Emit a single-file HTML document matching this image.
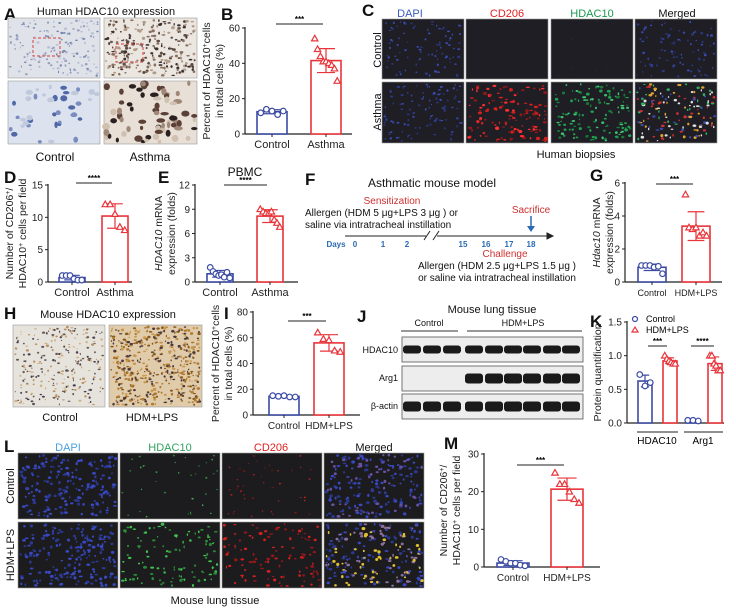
<!DOCTYPE html>
<html><head><meta charset="utf-8"><style>
html,body{margin:0;padding:0;background:#fff;}
svg{display:block;font-family:"Liberation Sans",Arial,sans-serif;}
</style></head><body>
<svg id="fig" width="736" height="610" viewBox="0 0 736 610" xmlns="http://www.w3.org/2000/svg">
<g id="static" font-size="11" fill="#111">
  <text x="4" y="20" font-size="17" font-weight="bold">A</text>
  <text x="106" y="15" font-size="11" text-anchor="middle">Human HDAC10 expression</text>
  <text x="55" y="161" font-size="12" text-anchor="middle">Control</text>
  <text x="150" y="161" font-size="12" text-anchor="middle">Asthma</text>
  <text x="221" y="20" font-size="17" font-weight="bold">B</text>
  <text x="362" y="16" font-size="17" font-weight="bold">C</text>
  <text x="410" y="17" text-anchor="middle" fill="#3a5bc0">DAPI</text>
  <text x="507" y="17" text-anchor="middle" fill="#e02020">CD206</text>
  <text x="592" y="17" text-anchor="middle" fill="#1a9a50">HDAC10</text>
  <text x="677" y="17" text-anchor="middle">Merged</text>
  <text transform="translate(381,50) rotate(-90)" text-anchor="middle">Control</text>
  <text transform="translate(381,112) rotate(-90)" text-anchor="middle">Asthma</text>
  <text x="576" y="158" text-anchor="middle">Human biopsies</text>
  <text x="4" y="183" font-size="17" font-weight="bold">D</text>
  <text x="158" y="183" font-size="17" font-weight="bold">E</text>
  <text x="245" y="176" text-anchor="middle" font-size="12">PBMC</text>
  <text x="305" y="185" font-size="17" font-weight="bold">F</text>
  <text x="432" y="187" text-anchor="middle" font-size="12">Asthmatic mouse model</text>
  <text x="392" y="204" text-anchor="middle" font-size="10" fill="#d03030">Sensitization</text>
  <text x="305" y="216" font-size="10">Allergen (HDM 5 μg+LPS 3 μg ) or</text>
  <text x="305" y="228" font-size="10">saline via intratracheal instillation</text>
  <g id="timeline" stroke="#222" stroke-width="1">
    <line x1="345" y1="236" x2="426" y2="236"/>
    <line x1="437" y1="236" x2="547" y2="236"/>
    <line x1="424" y1="240" x2="430" y2="231"/>
    <line x1="433" y1="240" x2="439" y2="231"/>
    <polygon points="547,233 553,236 547,239" fill="#222"/>
  </g>
  <g font-size="8" font-weight="bold" fill="#2a6ab0" text-anchor="middle">
    <text x="336" y="247">Days</text><text x="355" y="247">0</text><text x="383" y="247">1</text><text x="407" y="247">2</text>
    <text x="463" y="247">15</text><text x="486" y="247">16</text><text x="509" y="247">17</text><text x="531" y="247">18</text>
  </g>
  <text x="531" y="213" text-anchor="middle" font-size="10" fill="#d03030">Sacrifice</text>
  <line x1="531" y1="216" x2="531" y2="227" stroke="#2a6ab0" stroke-width="1.5"/>
  <polygon points="527,226 535,226 531,232" fill="#2a6ab0"/>
  <text x="505" y="257" text-anchor="middle" font-size="10" fill="#d03030">Challenge</text>
  <text x="497" y="269" text-anchor="middle" font-size="10">Allergen (HDM 2.5 μg+LPS 1.5 μg )</text>
  <text x="497" y="281" text-anchor="middle" font-size="10">or saline via intratracheal instillation</text>
  <text x="590" y="181" font-size="17" font-weight="bold">G</text>
  <text x="4" y="319" font-size="17" font-weight="bold">H</text>
  <text x="108" y="318" text-anchor="middle" font-size="11">Mouse HDAC10 expression</text>
  <text x="60" y="421" text-anchor="middle" font-size="11">Control</text>
  <text x="152" y="421" text-anchor="middle" font-size="11">HDM+LPS</text>
  <text x="224" y="319" font-size="17" font-weight="bold">I</text>
  <text x="357" y="322" font-size="17" font-weight="bold">J</text>
  <text x="492" y="313" text-anchor="middle" font-size="11">Mouse lung tissue</text>
  <text x="429" y="326" text-anchor="middle" font-size="9">Control</text>
  <line x1="401" y1="331" x2="458" y2="331" stroke="#333"/>
  <text x="523" y="326" text-anchor="middle" font-size="9">HDM+LPS</text>
  <line x1="467" y1="331" x2="582" y2="331" stroke="#333"/>
  <text x="398" y="353" text-anchor="end" font-size="9">HDAC10</text>
  <text x="398" y="381" text-anchor="end" font-size="9">Arg1</text>
  <text x="398" y="409" text-anchor="end" font-size="9">β-actin</text>
  <text x="590" y="327" font-size="17" font-weight="bold">K</text>
  <text x="4" y="452" font-size="17" font-weight="bold">L</text>
  <text x="68" y="451" text-anchor="middle" fill="#4aa0e0">DAPI</text>
  <text x="170" y="451" text-anchor="middle" fill="#30a060">HDAC10</text>
  <text x="271" y="451" text-anchor="middle" fill="#e02020">CD206</text>
  <text x="374" y="451" text-anchor="middle">Merged</text>
  <text transform="translate(14,486) rotate(-90)" text-anchor="middle">Control</text>
  <text transform="translate(14,555) rotate(-90)" text-anchor="middle">HDM+LPS</text>
  <text x="215" y="604" text-anchor="middle" font-size="11">Mouse lung tissue</text>
  <text x="444" y="449" font-size="17" font-weight="bold">M</text>
</g>
<g id="images"></g>
<g id="charts"></g>
</svg>
<script>
// ---------- chart data ----------
const groupsTwo = ["Control", "Asthma"];
const groupsMouse = ["Control", "HDM+LPS"];
const bControl = [12, 14, 13, 11, 13];
const bAsthma = [54, 48, 44, 41, 41, 40, 39, 37, 30];
const bTicks = [0, 20, 40, 60];
const dControl = [1, 1, 1, 0.5, 0.3, 0.3];
const dAsthma = [12, 12, 10.5, 8.5, 8];
const dTicks = [0, 5, 10, 15];
const eControl = [1.8, 1.3, 1.0, 0.8, 0.9, 0.6, 1.2, 0.5];
const eAsthma = [9.0, 8.7, 8.5, 8.5, 8.7, 7.7, 7.3, 6.8];
const eTicks = [0, 3, 6, 9, 12];
const gControl = [1.0, 1.0, 1.0, 0.9, 0.95, 0.5];
const gHdm = [5.3, 3.3, 3.2, 3.3, 2.8, 3.0, 2.8];
const gTicks = [0, 2, 4, 6];
const iControl = [15, 14.5, 15, 14, 14];
const iHdm = [64, 59, 58, 50, 49];
const iTicks = [0, 20, 40, 60, 80];
const kHdac10Control = [0.72, 0.55, 0.6];
const kHdac10Hdm = [1.0, 0.95, 0.92, 0.9, 0.88, 0.88];
const kArg1Control = [0.04, 0.04, 0.03];
const kArg1Hdm = [1.0, 1.0, 0.88, 0.85, 0.78, 0.78];
const kTicks = [0, 0.5, 1.0, 1.5];
const kTickLabels = ["0.0", "0.5", "1.0", "1.5"];
const mControl = [2, 1.5, 1, 1, 0.5, 0.3];
const mHdm = [25, 22, 22, 20, 18, 17];
const mTicks = [0, 10, 20, 30];

const NS = "http://www.w3.org/2000/svg";
const BLUE = "#3b4ba3", RED = "#e8343a";
const charts = document.getElementById("charts");
function el(tag, attrs, parent) {
  const e = document.createElementNS(NS, tag);
  for (const k in attrs) e.setAttribute(k, attrs[k]);
  (parent || charts).appendChild(e);
  return e;
}
function mean(a) { return a.reduce((s, v) => s + v, 0) / a.length; }
function sd(a) { const m = mean(a); return Math.sqrt(a.reduce((s, v) => s + (v - m) * (v - m), 0) / (a.length - 1)); }

function yScale(v, max, y0, y1) { return y0 - (v / max) * (y0 - y1); }

function axes(g, ax) {
  const l = el("line", {x1: ax.x0, y1: ax.y1 - 1, x2: ax.x0, y2: ax.y0, stroke: "#222", "stroke-width": 1.2}, g);
  
  
  const xl = el("line", {x1: ax.x0, y1: ax.y0, x2: ax.x1, y2: ax.y0, stroke: "#222", "stroke-width": 1.2}, g);
  
  
  ax.ticks.forEach((t, i) => {
    const y = yScale(t, ax.max, ax.y0, ax.y1);
    el("line", {x1: ax.x0 - 3, y1: y, x2: ax.x0, y2: y, stroke: "#222"}, g);
    const tx = el("text", {x: ax.x0 - 5, y: y + 3.5, "font-size": 10, "text-anchor": "end", fill: "#222"}, g);
    tx.textContent = ax.tickLabels ? ax.tickLabels[i] : t;
    
    
  });
  ax.titles.forEach((t, i) => {
    const tx = el("text", {transform: `translate(${ax.titleX + i * 13},${(ax.y0 + ax.y1) / 2}) rotate(-90)`, "font-size": 10.5, "text-anchor": "middle", fill: "#222"}, g);
    tx.innerHTML = t;
    
    
  });
}

function barGroup(g, ax, cx, w, vals, color, shape, name) {
  const m = mean(vals), s = sd(vals);
  const yt = yScale(m, ax.max, ax.y0, ax.y1);
  const r = el("rect", {x: cx - w / 2, y: yt, width: w, height: ax.y0 - yt, fill: "#fff", stroke: color, "stroke-width": 1.6}, g);
  
  
  const ye1 = yScale(m + s, ax.max, ax.y0, ax.y1), ye2 = yScale(Math.max(m - s, 0), ax.max, ax.y0, ax.y1);
  const eb = el("path", {d: `M${cx},${ye1}V${ye2}M${cx - w * 0.3},${ye1}H${cx + w * 0.3}M${cx - w * 0.3},${ye2}H${cx + w * 0.3}`, stroke: color, "stroke-width": 1.2, fill: "none"}, g);
  
  
  const n = vals.length;
  vals.forEach((v, i) => {
    const px = cx + (n > 1 ? (i / (n - 1) - 0.5) * w * 0.75 : 0);
    const py = yScale(v, ax.max, ax.y0, ax.y1);
    let p;
    if (shape === "c") p = el("circle", {cx: px, cy: py, r: 2.8, fill: "#fff", stroke: color, "stroke-width": 1.2}, g);
    else p = el("polygon", {points: `${px},${py - 3.3} ${px - 3.2},${py + 2.3} ${px + 3.2},${py + 2.3}`, fill: "#fff", stroke: color, "stroke-width": 1.2}, g);
    
    
  });
}

function sig(g, x1, x2, y, stars) {
  const l = el("line", {x1: x1, y1: y, x2: x2, y2: y, stroke: "#222", "stroke-width": 1}, g);
  
  
  const t = el("text", {x: (x1 + x2) / 2, y: y - 2, "font-size": 8, "text-anchor": "middle", "font-weight": "bold"}, g);
  t.textContent = stars;
  
  
}

function xLabels(g, ax, xs, labels) {
  labels.forEach((lab, i) => {
    el("line", {x1: xs[i], y1: ax.y0, x2: xs[i], y2: ax.y0 + 3, stroke: "#222"}, g);
    const t = el("text", {x: xs[i], y: ax.y0 + 14, "font-size": ax.xfs || 11, "text-anchor": "middle", fill: "#222"}, g);
    t.textContent = lab;
    
    
  });
}

function twoBar(name, ax, xs, w, a, b, labels, stars, sigY) {
  const g = el("g", {});
  
  
  axes(g, ax);
  barGroup(g, ax, xs[0], w, a, BLUE, "c", "control");
  barGroup(g, ax, xs[1], w, b, RED, "t", "treated");
  xLabels(g, ax, xs, labels);
  sig(g, xs[0] + 4, xs[1] - 3, sigY, stars);
}

twoBar("chart-b", {x0: 245, x1: 352, y0: 134, y1: 28, max: 60, ticks: bTicks, titles: ["Percent of HDAC10<tspan baseline-shift='super' font-size='7'>+</tspan>cells", "in total cells (%)"], titleX: 210},
  [272, 326], 30, bControl, bAsthma, groupsTwo, "***", 24);
twoBar("chart-d", {x0: 48, x1: 132, y0: 282, y1: 185, max: 15, ticks: dTicks, titles: ["Number of CD206<tspan baseline-shift='super' font-size='7'>+</tspan>/", "HDAC10<tspan baseline-shift='super' font-size='7'>+</tspan> cells per field"], titleX: 13},
  [72, 115], 26, dControl, dAsthma, groupsTwo, "****", 183);
twoBar("chart-e", {x0: 195, x1: 298, y0: 282, y1: 185, max: 12, ticks: eTicks, titles: ["<tspan font-style='italic'>HDAC10</tspan> mRNA", "expression (folds)"], titleX: 162},
  [220, 270], 26, eControl, eAsthma, groupsTwo, "****", 185);
twoBar("chart-g", {x0: 625, x1: 722, y0: 282, y1: 183, max: 6, ticks: gTicks, titles: ["<tspan font-style='italic'>Hdac10</tspan> mRNA", "expression (folds)"], titleX: 600, xfs: 9},
  [652, 696], 28, gControl, gHdm, groupsMouse, "***", 184);
twoBar("chart-i", {x0: 253, x1: 360, y0: 415, y1: 312, max: 80, ticks: iTicks, titles: ["Percent of HDAC10<tspan baseline-shift='super' font-size='7'>+</tspan>cells", "in total cells (%)"], titleX: 219, xfs: 10},
  [284, 329], 30, iControl, iHdm, groupsMouse, "***", 321);
twoBar("chart-m", {x0: 484, x1: 600, y0: 567, y1: 454, max: 30, ticks: mTicks, titles: ["Number of CD206<tspan baseline-shift='super' font-size='7'>+</tspan>/", "HDAC10<tspan baseline-shift='super' font-size='7'>+</tspan> cells per field"], titleX: 447, xfs: 10},
  [513, 567], 32, mControl, mHdm, groupsMouse, "***", 465);

// chart K
(function () {
  const g = el("g", {});
  
  
  const ax = {x0: 627, x1: 724, y0: 423, y1: 322, max: 1.5, ticks: kTicks, tickLabels: kTickLabels, titles: ["Protein quantification"], titleX: 601};
  axes(g, ax);
  barGroup(g, ax, 645, 14, kHdac10Control, BLUE, "c", "hdac10-control");
  barGroup(g, ax, 670, 14, kHdac10Hdm, RED, "t", "hdac10-hdm");
  barGroup(g, ax, 693, 14, kArg1Control, BLUE, "c", "arg1-control");
  barGroup(g, ax, 715, 14, kArg1Hdm, RED, "t", "arg1-hdm");
  sig(g, 648, 667, 346, "***");
  sig(g, 691, 714, 346, "****");
  [[637, 678, 657, "HDAC10"], [684, 723, 703, "Arg1"]].forEach(d => {
    el("line", {x1: d[0], y1: 432, x2: d[1], y2: 432, stroke: "#222"}, g);
    const t = el("text", {x: d[2], y: 444, "font-size": 10, "text-anchor": "middle"}, g);
    t.textContent = d[3];
    
    
  });
  const lc = el("circle", {cx: 635, cy: 319, r: 2.5, fill: "#fff", stroke: BLUE, "stroke-width": 1.2}, g);
  
  
  const t1 = el("text", {x: 646, y: 322, "font-size": 9}, g); t1.textContent = "Control";
  
  
  const lt = el("polygon", {points: "635,327 632,332 638,332", fill: "#fff", stroke: RED, "stroke-width": 1.2}, g);
  
  
  const t2 = el("text", {x: 646, y: 333, "font-size": 9}, g); t2.textContent = "HDM+LPS";
  
  
})();

// ---------- micrograph / blot textures (decorative) ----------
const imgs = document.getElementById("images");
let seed = 7;
function rnd() { seed = (seed * 16807) % 2147483647; return seed / 2147483647; }
function panel(name, x, y, w, h, bg, dots, n, rmin, rmax) {
  const g = el("g", {}, imgs);
  
  
  el("rect", {x: x, y: y, width: w, height: h, fill: bg, stroke: "#999", "stroke-width": 0.6}, g);
  for (let i = 0; i < n; i++) {
    const c = dots[Math.floor(rnd() * dots.length)];
    el("ellipse", {cx: x + 2 + rnd() * (w - 4), cy: y + 2 + rnd() * (h - 4), rx: rmin + rnd() * (rmax - rmin), ry: rmin + rnd() * (rmax - rmin) * 0.7, fill: c}, g);
  }
}
// A
panel("ihc-human-control-low", 8, 18, 92, 60, "#dfe2e8", ["#7a89b0", "#95a0c0", "#b8c0d5"], 160, 0.6, 1.6);
panel("ihc-human-asthma-low", 104, 18, 93, 60, "#ece6e0", ["#5a4a40", "#8a7060", "#3a3030", "#b09a88"], 260, 0.6, 2.0);
el("rect", {x: 33, y: 38, width: 27, height: 18, fill: "none", stroke: "#d04040", "stroke-dasharray": "3,2"}, imgs);
el("rect", {x: 116, y: 44, width: 27, height: 18, fill: "none", stroke: "#d04040", "stroke-dasharray": "3,2"}, imgs);
panel("ihc-human-control-high", 8, 81, 92, 63, "#dde3ee", ["#5068a8", "#7a8cc0", "#c0c8dc"], 40, 1.5, 4);
panel("ihc-human-asthma-high", 104, 81, 93, 63, "#e8dfd6", ["#2a2020", "#5a4036", "#a08878", "#d0c0b0"], 70, 1.5, 4.5);
// C
const cx = [382, 466, 551, 635], cw = 82;
const cBg = "#1e1e24";
panel("if-human-control-dapi", cx[0], 19, cw, 60, cBg, ["#3a4ab0", "#2a3880"], 90, 0.6, 1.6);
panel("if-human-control-cd206", cx[1], 19, cw, 60, cBg, ["#2a2020"], 10, 0.5, 1);
panel("if-human-control-hdac10", cx[2], 19, cw, 60, cBg, ["#203020"], 10, 0.5, 1);
panel("if-human-control-merged", cx[3], 19, cw, 60, cBg, ["#3a4ab0", "#2a3880"], 90, 0.6, 1.6);
panel("if-human-asthma-dapi", cx[0], 82, cw, 61, cBg, ["#3a4ab0", "#2a3880"], 110, 0.6, 1.6);
panel("if-human-asthma-cd206", cx[1], 82, cw, 61, cBg, ["#d02020", "#901818", "#ff3030"], 130, 0.6, 2.2);
panel("if-human-asthma-hdac10", cx[2], 82, cw, 61, cBg, ["#20a050", "#187a3a", "#40c070"], 130, 0.6, 2);
panel("if-human-asthma-merged", cx[3], 82, cw, 61, cBg, ["#3a4ab0", "#d03030", "#30b060", "#e0e0e0", "#e0a030"], 150, 0.6, 2);
// H
panel("ihc-mouse-control", 13, 325, 92, 82, "#e6e2dc", ["#6a5a50", "#b89060", "#d0b080", "#4a4050"], 260, 0.5, 1.6);
panel("ihc-mouse-hdm", 109, 325, 93, 82, "#e0ccaa", ["#b07a30", "#8a5a20", "#4a3a40", "#c89850"], 500, 0.6, 1.8);
// J blots
[["blot-hdac10", 337, 4, [1, 1, 1, 1, 1, 1, 1, 1, 1]], ["blot-arg1", 366, 5, [0, 0, 0, 1, 1, 1, 1, 1, 1]], ["blot-actin", 394, 5, [1, 1, 1, 1, 1, 1, 1, 1, 1]]].forEach(r => {
  const g = el("g", {}, imgs);
  
  
  el("rect", {x: 402, y: r[1], width: 181, height: 25, fill: "#ededed", stroke: "#555", "stroke-width": 0.8}, g);
  [412, 432, 452, 474, 494, 513, 532, 552, 571].forEach((lx, i) => {
    if (r[3][i]) el("rect", {x: lx - 9, y: r[1] + 12.5 - r[2], width: 18, height: r[2] * 2, rx: 3, fill: "#1a1a1a"}, g);
  });
});
// L
const lx = [18, 120, 222, 324], lw = 100;
const lBg = "#1c1c1e";
panel("if-mouse-control-dapi", lx[0], 453, lw, 66, lBg, ["#3848c0", "#2a3890"], 200, 0.8, 2);
panel("if-mouse-control-hdac10", lx[1], 453, lw, 66, lBg, ["#40b050", "#2a7a38"], 35, 0.5, 1.2);
panel("if-mouse-control-cd206", lx[2], 453, lw, 66, lBg, ["#c02020", "#801818"], 45, 0.5, 1.2);
panel("if-mouse-control-merged", lx[3], 453, lw, 66, lBg, ["#3848c0", "#6a50a0", "#2a3890"], 200, 0.8, 2);
panel("if-mouse-hdm-dapi", lx[0], 522, lw, 66, lBg, ["#3848c0", "#2a3890"], 200, 0.8, 2);
panel("if-mouse-hdm-hdac10", lx[1], 522, lw, 66, lBg, ["#40c050", "#2a8a38"], 110, 0.6, 2);
panel("if-mouse-hdm-cd206", lx[2], 522, lw, 66, lBg, ["#d02020", "#901818"], 110, 0.6, 2);
panel("if-mouse-hdm-merged", lx[3], 522, lw, 66, lBg, ["#3848c0", "#e0c030", "#2a3890", "#8a70a0"], 220, 0.8, 2);
</script>
</body></html>
